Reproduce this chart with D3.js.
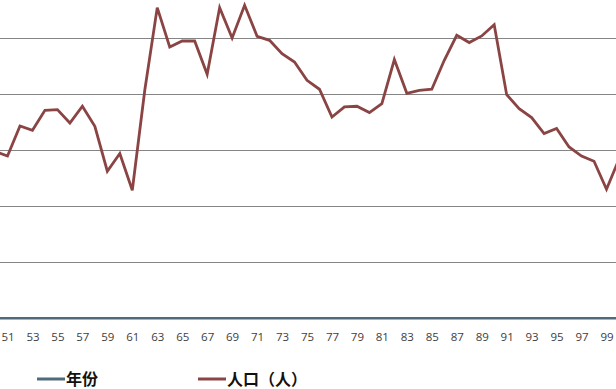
<!DOCTYPE html>
<html>
<head>
<meta charset="utf-8">
<script src="https://cdn.jsdelivr.net/npm/d3@7"></script>
<style>
  body { margin: 0; background: #fff; }
  svg { display: block; }
</style>
</head>
<body>
<svg></svg>
<script>
let width = 616,
    height = 389,
    svg = d3.select("svg")
        .attr("width", width)
        .attr("height", height)

// years 1950..2000 (the plot is cropped, so first/last fall just outside)
let years = d3.range(1950, 2001);

// 人口（人）
let population = [
    14910000, 14490000, 17170000, 16790000, 18570000, 18630000, 17440000, 18930000, 17140000, 13130000,
    14710000, 11430000, 20360000, 27740000, 24220000, 24760000, 24760000, 21790000, 27740000, 25030000,
    27950000, 25180000, 24820000, 23630000, 22880000, 21250000, 20450000, 17970000, 18870000, 18930000,
    18370000, 19170000, 23100000, 20090000, 20360000, 20450000, 23040000, 25270000, 24620000, 25210000,
    26220000, 19970000, 18720000, 17920000, 16490000, 16940000, 15300000, 14490000, 14020000, 11520000,
    14200000
];

// 年份 series (plotted too, sits on the bottom because of the scale)
let yearValues = years.slice();

let gridValues = [5000000, 10000000, 15000000, 20000000, 25000000];
let tickYears = d3.range(1951, 2000, 2);

let seriesNames = ["年份", "人口（人）"];
let seriesColors = ["#4e6b7b", "#8b4444"];

let x = d3.scaleLinear()
    .domain([1951, 1999])
    .range([7.5, 606.5]);

let y = d3.scaleLinear()
    .domain([0, 30000000])
    .range([318.3, -17.7]);

//////////////////////////////////////////////////////////// GRID
svg.append("g")
    .attr("class", "grid")
    .selectAll("line")
    .data(gridValues)
    .enter().append("line")
    .attr("x1", 0)
    .attr("x2", width)
    .attr("y1", d => Math.round(y(d)) + 0.5)
    .attr("y2", d => Math.round(y(d)) + 0.5)
    .attr("stroke", "#858585")
    .attr("stroke-width", 1)

//////////////////////////////////////////////////////////// X AXIS labels
let xAxis = d3.axisBottom(x)
    .tickValues(tickYears)
    .tickFormat(d => String(d).slice(2))
    .tickSize(0)
    .tickPadding(0)

let axisG = svg.append("g")
    .attr("transform", "translate(0,332.5)")
    .call(xAxis)
axisG.select(".domain").remove()
axisG.selectAll("text")
    .attr("font-family", "'Open Sans', sans-serif")
    .attr("font-size", 11.5)
    .attr("fill", "#404040")

//////////////////////////////////////////////////////////// LINES
let line = d3.line()
    .x((d, i) => x(years[i]))
    .y(d => y(d))

svg.append("path")
    .datum(yearValues)
    .attr("d", line)
    .attr("fill", "none")
    .attr("stroke", seriesColors[0])
    .attr("stroke-width", 2.5)

svg.append("path")
    .datum(population)
    .attr("d", line)
    .attr("fill", "none")
    .attr("stroke", seriesColors[1])
    .attr("stroke-width", 2.8)
    .attr("stroke-linejoin", "miter")

//////////////////////////////////////////////////////////// LEGEND
let legendX = [37, 198];
let legend = svg.append("g")
    .selectAll("g")
    .data(seriesNames)
    .enter().append("g")
    .attr("transform", (d, i) => "translate(" + legendX[i] + ",379)")

legend.append("line")
    .attr("x1", 0)
    .attr("x2", 28)
    .attr("y1", 0)
    .attr("y2", 0)
    .attr("stroke", (d, i) => seriesColors[i])
    .attr("stroke-width", 3)

legend.append("text")
    .attr("x", 29)
    .attr("y", 5.5)
    .attr("font-family", "'Noto Sans CJK SC', sans-serif")
    .attr("font-size", 16)
    .attr("font-weight", "bold")
    .attr("fill", "#111")
    .text(d => d)
</script>
</body>
</html>
